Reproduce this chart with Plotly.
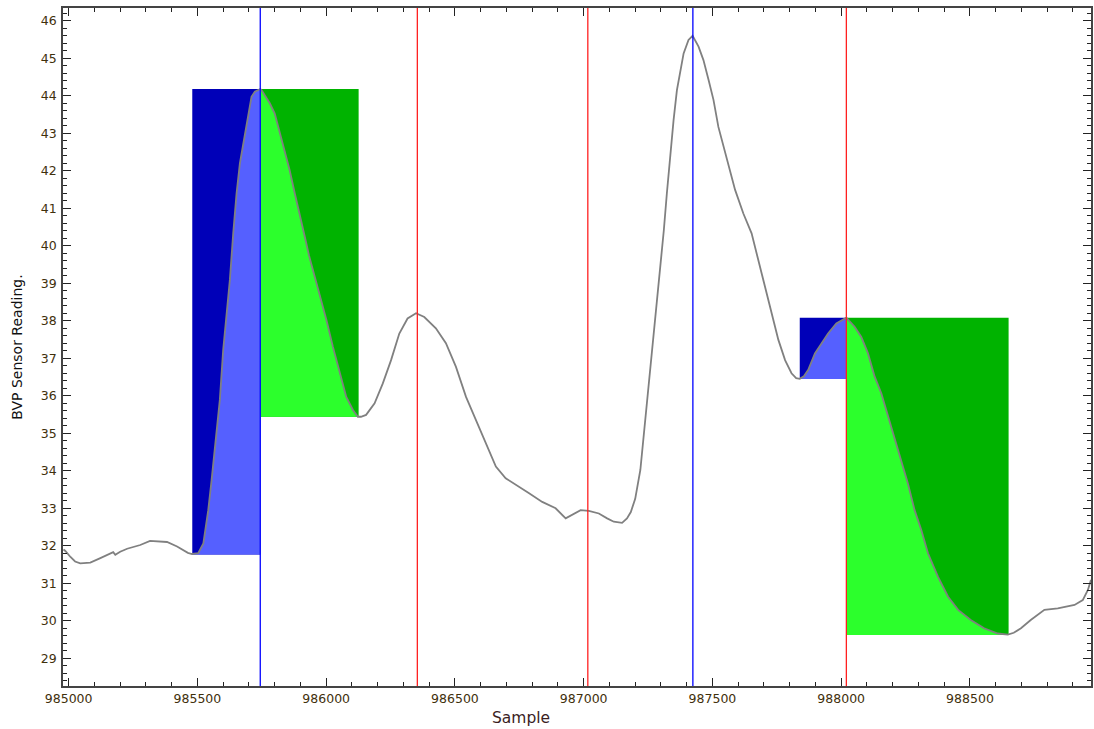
import numpy as np
import plotly.graph_objects as go

# ---- data ----
sample = [984980, 984987, 985007, 985025, 985045, 985084, 985123, 985161, 985173, 985181,
          985200, 985227, 985278, 985316, 985355, 985382, 985421, 985444, 985463, 985479,
          985498, 985503, 985523, 985542, 985555, 985575, 985587, 985600, 985613, 985626,
          985639, 985652, 985665, 985684, 985697, 985710, 985723, 985740, 985744, 985749,
          985781, 985800, 985820, 985839, 985858, 985878, 985897, 985917, 985933, 985949,
          985975, 986001, 986026, 986052, 986078, 986104, 986123, 986135, 986155, 986188,
          986220, 986252, 986284, 986316, 986349, 986381, 986426, 986465, 986504, 986543,
          986581, 986620, 986659, 986697, 986736, 986788, 986839, 986891, 986930, 986955,
          986988, 987020, 987059, 987091, 987117, 987149, 987168, 987183, 987200, 987220,
          987233, 987246, 987259, 987272, 987285, 987298, 987311, 987323, 987336, 987349,
          987362, 987375, 987388, 987407, 987423, 987446, 987465, 987485, 987504, 987523,
          987543, 987562, 987588, 987620, 987652, 987678, 987704, 987730, 987756, 987782,
          987807, 987825, 987839, 987855, 987872, 987898, 987923, 987949, 987981, 988007,
          988020, 988052, 988078, 988104, 988130, 988156, 988182, 988221, 988259, 988285,
          988311, 988337, 988376, 988415, 988454, 988503, 988555, 988608, 988647, 988670,
          988698, 988736, 988789, 988841, 988906, 988938, 988958, 988970]
bvp = [31.90, 31.86, 31.70, 31.58, 31.53, 31.55, 31.67, 31.80, 31.83, 31.76,
       31.84, 31.92, 32.02, 32.13, 32.12, 32.10, 31.98, 31.88, 31.81, 31.78,
       31.78, 31.80, 32.06, 32.95, 33.75, 35.00, 35.89, 37.22, 38.10, 39.09,
       40.33, 41.40, 42.20, 43.00, 43.53, 43.97, 44.11, 44.17, 44.18, 44.15,
       43.80, 43.53, 43.00, 42.55, 42.02, 41.40, 40.86, 40.24, 39.75, 39.35,
       38.73, 38.02, 37.31, 36.60, 35.97, 35.62, 35.44, 35.44, 35.49, 35.80,
       36.33, 36.95, 37.66, 38.06, 38.20, 38.10, 37.80, 37.40, 36.77, 35.97,
       35.35, 34.73, 34.11, 33.80, 33.62, 33.40, 33.17, 33.00, 32.73, 32.82,
       32.95, 32.93, 32.86, 32.73, 32.64, 32.61, 32.73, 32.90, 33.25, 34.02,
       34.91, 35.80, 36.69, 37.57, 38.46, 39.35, 40.40, 41.40, 42.46, 43.35,
       44.15, 44.69, 45.13, 45.49, 45.60, 45.31, 44.95, 44.42, 43.89, 43.17,
       42.64, 42.11, 41.49, 40.86, 40.33, 39.62, 38.91, 38.20, 37.49, 36.95,
       36.60, 36.47, 36.45, 36.52, 36.69, 37.13, 37.40, 37.66, 37.93, 38.04,
       38.08, 37.84, 37.57, 37.13, 36.51, 36.06, 35.44, 34.55, 33.66, 32.95,
       32.42, 31.80, 31.17, 30.64, 30.29, 30.02, 29.80, 29.66, 29.63, 29.68,
       29.80, 30.02, 30.29, 30.33, 30.42, 30.55, 30.82, 31.09]

# rise (blue) and fall (green) boxes
rise_x0 = [985480, 987839]
rise_x1 = [985744, 988020]
rise_y0 = [31.77, 36.45]
rise_y1 = [44.18, 38.08]
fall_x0 = [985744, 988020]
fall_x1 = [986126, 988650]
fall_y0 = [35.44, 29.62]
fall_y1 = [44.18, 38.08]

blue_marks = [985744, 987424]
red_marks = [986354, 987016, 988020]

x_ticks = [985000, 985500, 986000, 986500, 987000, 987500, 988000, 988500]
y_ticks = list(range(29, 47))

xs = np.array(sample, dtype=float)
ys = np.array(bvp, dtype=float)

fig = go.Figure()


def add_box(x0, x1, y0, y1, dark, light):
    fig.add_trace(go.Scatter(x=[x0, x1, x1, x0, x0], y=[y0, y0, y1, y1, y0],
                             mode="lines", fill="toself", fillcolor=dark,
                             line=dict(width=0), hoverinfo="skip", showlegend=False))
    m = (xs > x0) & (xs < x1)
    px = [x0] + list(xs[m]) + [x1, x1, x0]
    py = [np.interp(x0, xs, ys)] + list(ys[m]) + [np.interp(x1, xs, ys), y0, y0]
    py = [max(v, y0) for v in py]
    fig.add_trace(go.Scatter(x=px, y=py, mode="lines", fill="toself", fillcolor=light,
                             line=dict(width=0), hoverinfo="skip", showlegend=False))


for i in range(len(rise_x0)):
    add_box(rise_x0[i], rise_x1[i], rise_y0[i], rise_y1[i], "#0000b8", "#5560ff")
for i in range(len(fall_x0)):
    add_box(fall_x0[i], fall_x1[i], fall_y0[i], fall_y1[i], "#00b300", "#2cff2c")

fig.add_trace(go.Scatter(x=xs, y=ys, mode="lines",
                         line=dict(color="#808080", width=1.8),
                         showlegend=False))

for v in blue_marks:
    fig.add_vline(x=v, line=dict(color="#0000ff", width=1.3), layer="above")
for v in red_marks:
    fig.add_vline(x=v, line=dict(color="#ff2020", width=1.3), layer="above")

tick_font = dict(family="DejaVu Sans", size=12.5, color="#3f300c")

fig.update_xaxes(range=[984978, 988970], tickvals=x_ticks, ticktext=[str(t) for t in x_ticks],
                 ticks="inside", ticklen=8, tickwidth=1.3, tickcolor="#222",
                 minor=dict(ticks="inside", dtick=100, tick0=985000, ticklen=4, tickcolor="#222"),
                 showline=True, linecolor="#444", linewidth=1.5, mirror="ticks",
                 showgrid=False, zeroline=False, tickfont=tick_font)
fig.update_yaxes(range=[28.26, 46.34], tickvals=y_ticks, ticktext=[str(t) for t in y_ticks],
                 ticks="inside", ticklen=8, tickwidth=1.3, tickcolor="#222",
                 minor=dict(ticks="inside", dtick=0.2, tick0=29, ticklen=4, tickcolor="#222"),
                 showline=True, linecolor="#444", linewidth=1.5, mirror="ticks",
                 showgrid=False, zeroline=False, tickfont=tick_font, ticklabelstandoff=2)

fig.add_annotation(text="Sample", xref="paper", yref="paper", x=(522 - 63) / 1030, y=-0.047,
                   xanchor="center", yanchor="middle", showarrow=False,
                   font=dict(family="DejaVu Sans", size=15.5, color="#3a1e1e"))
fig.add_annotation(text="BVP Sensor Reading.", xref="paper", yref="paper",
                   x=-0.045, y=0.5, textangle=-90, xanchor="center", yanchor="middle",
                   showarrow=False, font=dict(family="DejaVu Sans", size=14, color="#111"))

fig.update_layout(width=1094, height=729,
                  margin=dict(l=63, r=1, t=8, b=43),
                  plot_bgcolor="white", paper_bgcolor="white",
                  showlegend=False)

# remove the default page margin so the figure fills the 1094x729 window exactly
fig.write_html("out.html",
               config={"displayModeBar": False},
               post_script="document.body.style.margin='0';document.body.style.overflow='hidden';")
